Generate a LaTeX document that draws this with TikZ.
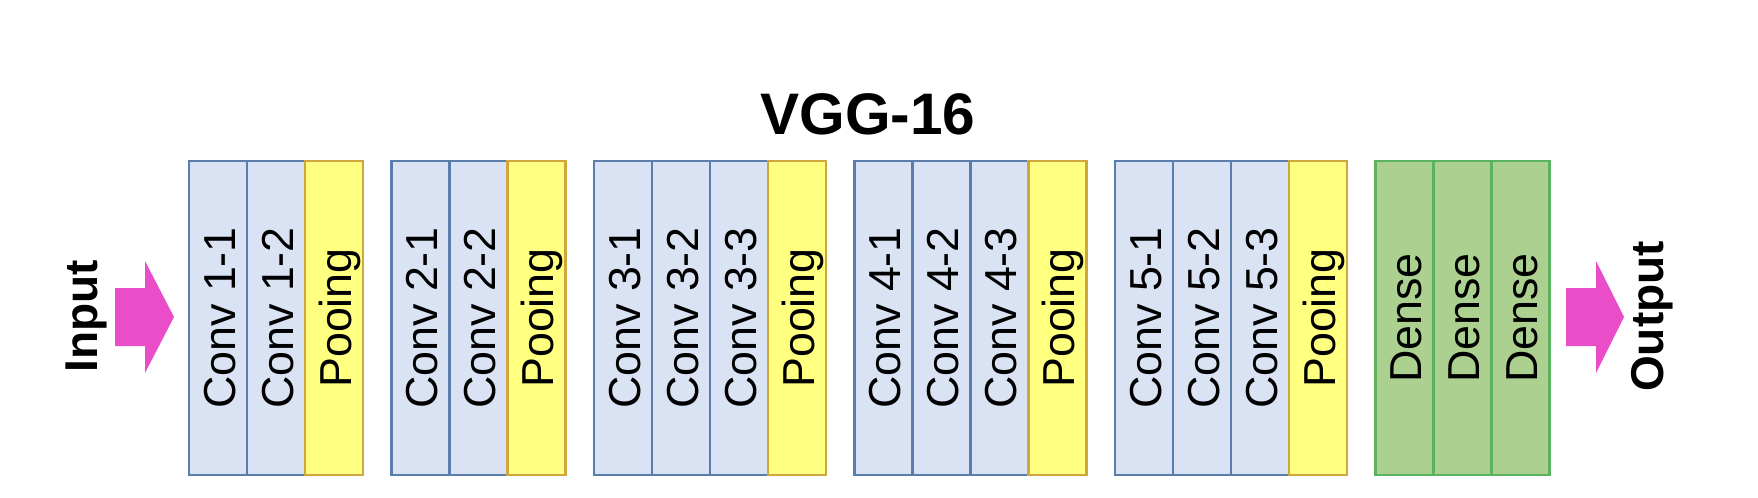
\documentclass[tikz,border=0pt]{standalone}
\usepackage{fontspec}
\setmainfont{Liberation Sans}
\usetikzlibrary{positioning}

\definecolor{convfill}{HTML}{DAE3F3}
\definecolor{convline}{HTML}{5A7EAC}
\definecolor{poolfill}{HTML}{FFFF80}
\definecolor{poolline}{HTML}{D2A63E}
\definecolor{densefill}{HTML}{ABD08F}
\definecolor{denseline}{HTML}{5CB35E}
\definecolor{arrowpink}{HTML}{EA4DC8}

\newcommand{\vtext}[1]{\rotatebox{90}{\raisebox{0pt}[0.78em][0pt]{#1}}}

\begin{document}
\begin{tikzpicture}[x=0.5pt,y=-0.5pt,
		layernode/.style={rectangle,draw,line width=1.1pt,inner sep=0pt,outer sep=0pt,minimum width=29pt,minimum height=157pt,font=\fontsize{22.4pt}{26pt}\selectfont},
		convnode/.style={layernode,fill=convfill,draw=convline},
		poolnode/.style={layernode,fill=poolfill,draw=poolline},
		densenode/.style={layernode,fill=densefill,draw=denseline},
		iolabel/.style={inner sep=0pt,font=\bfseries\fontsize{23pt}{28pt}\selectfont}]
		\useasboundingbox (0,0) rectangle (1758,498);

		\node[font=\bfseries\fontsize{29.3pt}{34pt}\selectfont]	(title)	at (868,114)	{VGG-16};

		\node[convnode]		at (218,318)				(c11)	{\vtext{Conv 1-1}};
		\node[convnode,right=0pt of c11]				(c12)	{\vtext{Conv 1-2}};
		\node[poolnode,right=0pt of c12]				(p1)	{\vtext{Pooing}};

		\node[convnode,right=14.25pt of p1]				(c21)	{\vtext{Conv 2-1}};
		\node[convnode,right=0pt of c21]				(c22)	{\vtext{Conv 2-2}};
		\node[poolnode,right=0pt of c22]				(p2)	{\vtext{Pooing}};

		\node[convnode,right=14.25pt of p2]				(c31)	{\vtext{Conv 3-1}};
		\node[convnode,right=0pt of c31]				(c32)	{\vtext{Conv 3-2}};
		\node[convnode,right=0pt of c32]				(c33)	{\vtext{Conv 3-3}};
		\node[poolnode,right=0pt of c33]				(p3)	{\vtext{Pooing}};

		\node[convnode,right=14.25pt of p3]				(c41)	{\vtext{Conv 4-1}};
		\node[convnode,right=0pt of c41]				(c42)	{\vtext{Conv 4-2}};
		\node[convnode,right=0pt of c42]				(c43)	{\vtext{Conv 4-3}};
		\node[poolnode,right=0pt of c43]				(p4)	{\vtext{Pooing}};

		\node[convnode,right=14.25pt of p4]				(c51)	{\vtext{Conv 5-1}};
		\node[convnode,right=0pt of c51]				(c52)	{\vtext{Conv 5-2}};
		\node[convnode,right=0pt of c52]				(c53)	{\vtext{Conv 5-3}};
		\node[poolnode,right=0pt of c53]				(p5)	{\vtext{Pooing}};

		\node[densenode,right=14.25pt of p5]			(d1)	{\vtext{Dense}};
		\node[densenode,right=0pt of d1]				(d2)	{\vtext{Dense}};
		\node[densenode,right=0pt of d2]				(d3)	{\vtext{Dense}};

		\node[iolabel]		at (86,316.5)				(in)	{\rotatebox{90}{Input}};
		\node[iolabel]		at (1652,316.5)				(out)	{\rotatebox{90}{Output}};

		\fill[arrowpink] (115,288) -- (145,288) -- (145,261) -- (174,317) -- (145,373) -- (145,346) -- (115,346) -- cycle;
		\fill[arrowpink] (1566,288) -- (1596,288) -- (1596,261) -- (1624,317) -- (1596,373) -- (1596,346) -- (1566,346) -- cycle;
	\end{tikzpicture}
\end{document}
